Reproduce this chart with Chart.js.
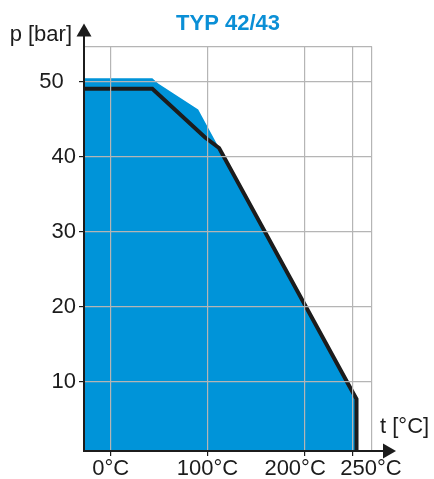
<!DOCTYPE html>
<html>
<head>
<meta charset="utf-8">
<script src="https://cdn.jsdelivr.net/npm/chart.js@4/dist/chart.umd.min.js"></script>
<style>
    body { margin: 0; background: #ffffff; }
    canvas { display: block; }
</style>
</head>
<body>
<canvas id="pt-chart" width="434" height="479"></canvas>
<script>
// Pressure / temperature limit, TYP 42/43
var limitTemp = [-27.6, 43, 97.6, 112, 248.8, 254, 254];
var limitPres = [49.1, 49.1, 42.6, 41.2, 8.9, 7.7, 0.76];

var areaTemp = [-27.6, 43, 49, 90.4, 112, 248.8, 254, 254];
var areaPres = [50.5, 50.5, 49.8, 46.35, 41.2, 8.9, 7.7, 0.76];

var xGridValues = [0, 100, 200, 250, 270];
var xTickLabels = ['0°C', '100°C', '200°C', '250°C', ''];
var yGridValues = [10, 20, 30, 40, 50, 54.76];
var yTickLabels = ['10', '20', '30', '40', '50', ''];

var xMin = -27.6, xMax = 270;
var yMin = 0.76, yMax = 54.76;

var ink = '#1c1c1c';
var gridGrey = '#b5b5b5';
var fillBlue = '#0094d9';

function toPoints(xs, ys) {
    return xs.map(function (x, i) {
        return {x: x, y: ys[i]};
    });
}

// labels in the drawing are nudged sideways so they do not collide
function nudge(text, spaces) {
    var pad = new Array(Math.abs(spaces) + 1).join(' ');
    return spaces < 0 ? text + pad : pad + text;
}
var xLabelNudge = [0, 0, -3, 6, 0];
var yLabelNudge = [0, 0, 0, 0, -2, 0];

var axisArrows = {
    id: 'axisArrows',
    afterDraw: function (chart) {
        var ctx = chart.ctx;
        var area = chart.chartArea;
        ctx.save();
        ctx.strokeStyle = ink;
        ctx.fillStyle = ink;
        ctx.lineWidth = 2;

        // y axis up to the arrow
        ctx.beginPath();
        ctx.moveTo(area.left, area.top);
        ctx.lineTo(area.left, area.top - 12);
        ctx.stroke();
        ctx.beginPath();
        ctx.moveTo(area.left, area.top - 23);
        ctx.lineTo(area.left - 7.5, area.top - 10);
        ctx.lineTo(area.left + 7.5, area.top - 10);
        ctx.closePath();
        ctx.fill();

        // x axis out to the arrow
        ctx.beginPath();
        ctx.moveTo(area.right, area.bottom);
        ctx.lineTo(area.right + 12, area.bottom);
        ctx.stroke();
        ctx.beginPath();
        ctx.moveTo(area.right + 24, area.bottom);
        ctx.lineTo(area.right + 11, area.bottom - 7.5);
        ctx.lineTo(area.right + 11, area.bottom + 7.5);
        ctx.closePath();
        ctx.fill();

        ctx.font = '22px "Liberation Sans", Arial, sans-serif';
        ctx.textBaseline = 'middle';
        ctx.textAlign = 'right';
        ctx.fillText('p [bar]', area.left - 12, area.top - 11);
        ctx.textAlign = 'left';
        ctx.fillText('t [°C]', area.right + 8, area.bottom - 24);
        ctx.restore();
    }
};

Chart.defaults.font.family = '"Liberation Sans", Arial, sans-serif';
Chart.defaults.color = ink;

var ctx = document.getElementById('pt-chart').getContext('2d');
var ptChart = new Chart(ctx, {
    type: 'line',
    data: {
        datasets: [{
            label: 'limit',
            data: toPoints(limitTemp, limitPres),
            borderColor: ink,
            borderWidth: 4,
            borderCapStyle: 'butt',
            borderJoinStyle: 'miter',
            pointRadius: 0,
            fill: false,
            tension: 0,
            order: 0
        }, {
            label: 'area',
            data: toPoints(areaTemp, areaPres),
            borderWidth: 0,
            borderColor: fillBlue,
            backgroundColor: fillBlue,
            pointRadius: 0,
            fill: 'start',
            tension: 0,
            order: 1
        }]
    },
    options: {
        responsive: false,
        animation: false,
        layout: {
            padding: {left: 0, right: 62, top: 0, bottom: 0}
        },
        plugins: {
            legend: {display: false},
            tooltip: {enabled: false},
            title: {
                display: true,
                text: 'TYP 42/43',
                color: '#0a8fd6',
                fullSize: false,
                font: {size: 22, weight: 'bold'},
                padding: {top: 11, bottom: 9}
            }
        },
        scales: {
            x: {
                type: 'linear',
                min: xMin,
                max: xMax,
                afterBuildTicks: function (scale) {
                    scale.ticks = xGridValues.map(function (v) {
                        return {value: v};
                    });
                },
                afterFit: function (scale) {
                    scale.height = 28;
                },
                ticks: {
                    autoSkip: false,
                    maxRotation: 0,
                    minRotation: 0,
                    padding: 0,
                    font: {size: 22},
                    callback: function (value, index) {
                        return nudge(xTickLabels[index], xLabelNudge[index]);
                    }
                },
                grid: {
                    z: 1,
                    color: gridGrey,
                    lineWidth: 1.2,
                    tickLength: 5,
                    tickColor: function (c) {
                        return xTickLabels[c.index] ? ink : 'rgba(0,0,0,0)';
                    }
                },
                border: {display: true, color: ink, width: 2, z: 2}
            },
            y: {
                type: 'linear',
                min: yMin,
                max: yMax,
                afterBuildTicks: function (scale) {
                    scale.ticks = yGridValues.map(function (v) {
                        return {value: v};
                    });
                },
                afterFit: function (scale) {
                    scale.width = 84;
                },
                ticks: {
                    padding: 3,
                    font: {size: 22},
                    callback: function (value, index) {
                        return nudge(yTickLabels[index], yLabelNudge[index]);
                    }
                },
                grid: {
                    z: 1,
                    color: gridGrey,
                    lineWidth: 1.2,
                    tickLength: 5,
                    tickColor: function (c) {
                        return yTickLabels[c.index] ? ink : 'rgba(0,0,0,0)';
                    }
                },
                border: {display: true, color: ink, width: 2, z: 2}
            }
        }
    },
    plugins: [axisArrows]
});
</script>
</body>
</html>
